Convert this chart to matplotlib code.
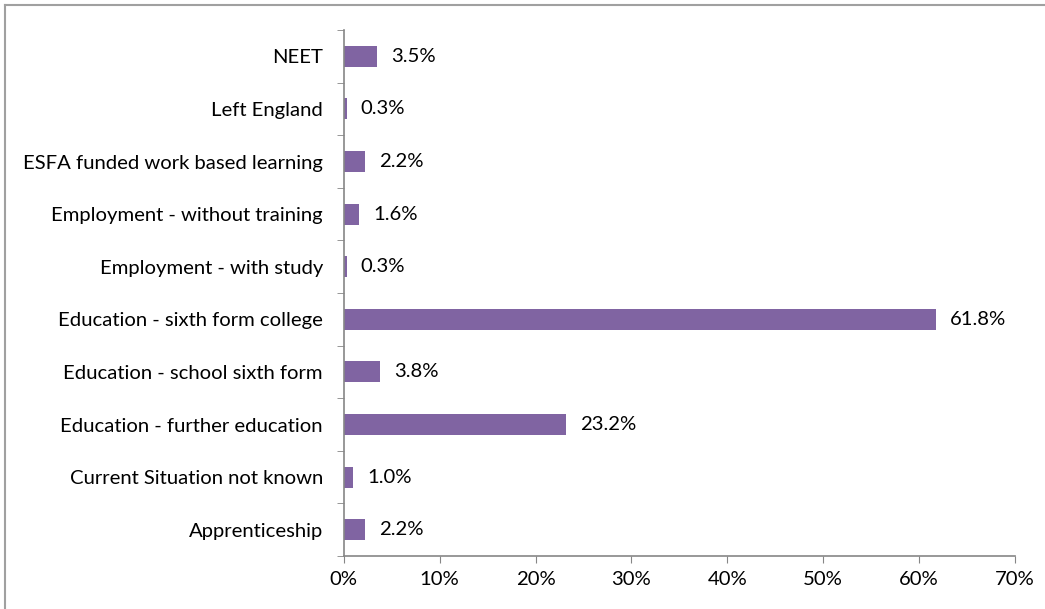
import matplotlib
matplotlib.use("Agg")
import matplotlib.pyplot as plt
from matplotlib.lines import Line2D
from matplotlib.ticker import FixedLocator, PercentFormatter

# data, bottom to top as drawn
categories = [
    "Apprenticeship",
    "Current Situation not known",
    "Education - further education",
    "Education - school sixth form",
    "Education - sixth form college",
    "Employment - with study",
    "Employment - without training",
    "ESFA funded work based learning",
    "Left England",
    "NEET",
]
values = [2.2, 1.0, 23.2, 3.8, 61.8, 0.3, 1.6, 2.2, 0.3, 3.5]

plt.rcParams["font.family"] = ["Lato", "DejaVu Sans"]
grey = "#868686"
fs = 14.6

fig = plt.figure(figsize=(10.45, 6.09), dpi=100)
ax = fig.add_axes([0.329, 0.087, 0.6423, 0.8637])

y = range(len(categories))
ax.barh(y, values, height=0.4, color="#8064A2")
for yi, v in zip(y, values):
    ax.annotate(f"{v:.1f}%", (v, yi), xytext=(10, 0), textcoords="offset points",
                va="center", ha="left", fontsize=fs)

ax.set_xlim(0, 70)
ax.set_ylim(-0.5, len(categories) - 0.5)
ax.set_xticks(range(0, 71, 10))
ax.xaxis.set_major_formatter(PercentFormatter(decimals=0))
ax.set_yticks(list(y))
ax.set_yticklabels(categories)
ax.yaxis.set_minor_locator(FixedLocator([i - 0.5 for i in range(len(categories) + 1)]))

ax.tick_params(axis="y", which="major", length=0, pad=15, labelsize=fs)
ax.tick_params(axis="y", which="minor", length=5, color=grey, direction="out")
ax.tick_params(axis="x", length=5, color=grey, direction="out", pad=6, labelsize=fs)

for s in ["top", "right"]:
    ax.spines[s].set_visible(False)
for s in ["left", "bottom"]:
    ax.spines[s].set_color(grey)
    ax.spines[s].set_linewidth(1.2)

# outer chart frame (top and left edges visible)
fig.add_artist(Line2D([0.0045, 0.0045], [0, 0.9925], color="#A0A0A0", lw=1.5, transform=fig.transFigure))
fig.add_artist(Line2D([0.0045, 1], [0.9925, 0.9925], color="#A0A0A0", lw=1.5, transform=fig.transFigure))

fig.savefig("out.png", dpi=100)
